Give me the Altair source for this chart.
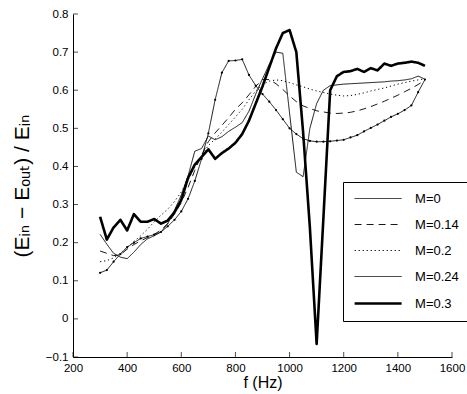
import altair as alt
import pandas as pd

freq = [300, 325, 350, 375, 400, 425, 450, 475, 500, 525, 550, 575, 600, 625, 650, 675,
        700, 725, 750, 775, 800, 825, 850, 875, 900, 925, 950, 975, 1000, 1025, 1050, 1075,
        1100, 1125, 1150, 1175, 1200, 1225, 1250, 1275, 1300, 1325, 1350, 1375, 1400, 1425,
        1450, 1475, 1500]

m0 = [0.121, 0.128, 0.150, 0.170, 0.188, 0.200, 0.211, 0.216, 0.221, 0.228, 0.243, 0.260,
      0.282, 0.315, 0.362, 0.420, 0.487, 0.575, 0.646, 0.677, 0.678, 0.681, 0.640, 0.612,
      0.590, 0.570, 0.548, 0.524, 0.500, 0.485, 0.473, 0.467, 0.465, 0.465, 0.466, 0.468,
      0.470, 0.476, 0.482, 0.492, 0.501, 0.510, 0.520, 0.530, 0.538, 0.548, 0.560, 0.595,
      0.628]

m014 = [0.178, 0.172, 0.166, 0.168, 0.183, 0.195, 0.205, 0.213, 0.222, 0.233, 0.250, 0.275,
        0.305, 0.345, 0.390, 0.430, 0.465, 0.488, 0.508, 0.528, 0.550, 0.567, 0.588, 0.610,
        0.628, 0.628, 0.617, 0.602, 0.585, 0.570, 0.559, 0.552, 0.546, 0.543, 0.540, 0.539,
        0.540, 0.542, 0.546, 0.551, 0.557, 0.564, 0.571, 0.579, 0.587, 0.596, 0.605, 0.615,
        0.626]

m02 = [0.150, 0.153, 0.160, 0.172, 0.188, 0.203, 0.218, 0.235, 0.255, 0.272, 0.288, 0.308,
       0.333, 0.365, 0.398, 0.428, 0.455, 0.472, 0.490, 0.510, 0.530, 0.550, 0.575, 0.598,
       0.615, 0.624, 0.627, 0.625, 0.620, 0.614, 0.609, 0.603, 0.598, 0.594, 0.590, 0.587,
       0.585, 0.586, 0.589, 0.593, 0.598, 0.602, 0.606, 0.611, 0.616, 0.620, 0.624, 0.627,
       0.630]

m024 = [0.222, 0.196, 0.172, 0.162, 0.158, 0.175, 0.195, 0.210, 0.218, 0.228, 0.250, 0.285,
        0.325, 0.375, 0.440, 0.447, 0.480, 0.470, 0.478, 0.492, 0.503, 0.515, 0.545, 0.590,
        0.630, 0.668, 0.700, 0.697, 0.540, 0.385, 0.373, 0.500, 0.565, 0.600, 0.612, 0.614,
        0.616, 0.617, 0.618, 0.619, 0.620, 0.621, 0.622, 0.624, 0.625, 0.627, 0.630, 0.637,
        0.629]

m03 = [0.268, 0.208, 0.240, 0.260, 0.232, 0.275, 0.255, 0.255, 0.262, 0.250, 0.258, 0.280,
       0.312, 0.370, 0.405, 0.425, 0.445, 0.420, 0.435, 0.447, 0.462, 0.485, 0.520, 0.565,
       0.610, 0.660, 0.710, 0.750, 0.758, 0.700, 0.490, 0.240, -0.066, 0.265, 0.600, 0.637,
       0.648, 0.650, 0.656, 0.648, 0.658, 0.652, 0.670, 0.664, 0.670, 0.672, 0.675, 0.672,
       0.664]

labels = ["M=0", "M=0.14", "M=0.2", "M=0.24", "M=0.3"]
x_ticks = [200, 400, 600, 800, 1000, 1200, 1400, 1600]
y_ticks = [-0.1, 0, 0.1, 0.2, 0.3, 0.4, 0.5, 0.6, 0.7, 0.8]

rows = []
for lab, vals in zip(labels, [m0, m014, m02, m024, m03]):
    for f, v in zip(freq, vals):
        rows.append({"f": f, "v": v, "M": lab})
df = pd.DataFrame(rows)
df_m0 = df[df["M"] == "M=0"]
df_xt = pd.DataFrame({"t": x_ticks})
df_yt = pd.DataFrame({"t": y_ticks})

W, H = 379, 343
FONT = "Liberation Sans"
xscale = alt.Scale(domain=[200, 1600], nice=False, zero=False)
yscale = alt.Scale(domain=[-0.1, 0.8], nice=False, zero=False)

x_axis = alt.Axis(values=x_ticks, format="d", title="f (Hz)", titleFont=FONT, titleFontSize=16,
                  titleFontWeight="normal", titleColor="black", titleX=W / 2, titleY=30,
                  titleBaseline="alphabetic", titleAlign="center", labelFont=FONT,
                  labelFontSize=11.5, labelColor="black", labelPadding=5, labelFlush=False,
                  labelOverlap=False, ticks=False, tickSize=0, domainColor="black", grid=False)
y_axis = alt.Axis(values=y_ticks, labelExpr="datum.value == 0 ? '0' : format(datum.value, '.1f')",
                  title="(Eᵢₙ − Eₒᵤₜ) / Eᵢₙ", titleFont=FONT + ", DejaVu Sans", titleFontSize=21,
                  titleFontWeight="normal", titleColor="black", titleAngle=270, titleX=-45,
                  titleY=H / 2, titleBaseline="alphabetic", titleAlign="center", labelFont=FONT,
                  labelFontSize=11.5, labelColor="black", labelPadding=5, labelFlush=False,
                  labelOverlap=False, ticks=False, tickSize=0, domainColor="black", grid=False)

leg = alt.Legend(title=None, orient="none", legendX=270, legendY=168, direction="vertical",
                 symbolType="M-4,0H4", symbolSize=138, symbolStrokeColor="black",
                 symbolFillColor="transparent", symbolOffset=17.6,
                 labelFont=FONT, labelFontSize=13, labelColor="black", labelOffset=29.5,
                 padding=10, rowPadding=12, strokeColor="black", fillColor="white")

lines = alt.Chart(df).mark_line(color="black", strokeCap="butt", strokeJoin="round").encode(
    x=alt.X("f:Q", scale=xscale, axis=x_axis),
    y=alt.Y("v:Q", scale=yscale, axis=y_axis),
    strokeDash=alt.StrokeDash("M:N", scale=alt.Scale(type="ordinal", domain=labels,
                              range=[[1, 0], [7, 5], [1.2, 2.8], [1, 0], [1, 0]]), legend=leg),
    strokeWidth=alt.StrokeWidth("M:N", scale=alt.Scale(type="ordinal", domain=labels,
                                range=[0.9, 0.9, 1.0, 0.9, 2.6]), legend=leg),
    order=alt.Order("f:Q"),
)

dots = alt.Chart(df_m0).mark_point(filled=True, size=5, color="black", opacity=1).encode(
    x=alt.X("f:Q", scale=xscale, axis=x_axis), y=alt.Y("v:Q", scale=yscale, axis=y_axis))

xt = alt.Chart(df_xt).mark_tick(orient="vertical", size=5, thickness=1, color="black").encode(
    x=alt.X("t:Q", scale=xscale, axis=x_axis), y=alt.value(H - 2.5))
yt = alt.Chart(df_yt).mark_tick(orient="horizontal", size=5, thickness=1, color="black").encode(
    y=alt.Y("t:Q", scale=yscale, axis=y_axis), x=alt.value(2.5))

chart = alt.layer(lines, dots, xt, yt).properties(
    width=W, height=H, autosize=alt.AutoSizeParams(type="none"),
    padding={"left": 73, "top": 14, "right": 15, "bottom": 37},
    background="white",
).configure_view(strokeWidth=0)

chart.save("out.html", embed_options={"renderer": "svg", "actions": False})
